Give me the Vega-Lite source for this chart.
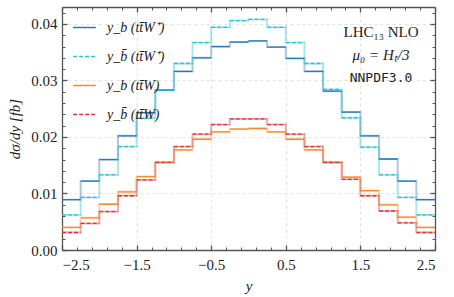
{
  "$schema": "https://vega.github.io/schema/vega-lite/v6.json",
  "width": 373,
  "height": 243,
  "autosize": "none",
  "padding": {"left": 62, "top": 7, "right": 19, "bottom": 47},
  "background": "white",
  "config": {
    "view": {"stroke": null},
    "font": "Liberation Serif",
    "axis": {
      "labelFont": "Liberation Serif",
      "labelFontSize": 14,
      "labelColor": "#222",
      "titleFont": "Liberation Serif",
      "titleFontSize": 15,
      "titleFontStyle": "italic",
      "titleFontWeight": "normal",
      "titleColor": "#222",
      "domainColor": "#555",
      "domainWidth": 1.3,
      "tickColor": "#555",
      "gridColor": "#d8d8d8",
      "gridDash": [3, 3],
      "gridWidth": 0.8
    },
    "legend": {
      "orient": "none",
      "legendX": 10,
      "legendY": 8,
      "title": null,
      "symbolType": "stroke",
      "symbolSize": 520,
      "symbolStrokeWidth": 1.3,
      "symbolOpacity": 1,
      "labelFont": "Liberation Serif",
      "labelFontSize": 14,
      "labelFontStyle": "italic",
      "labelColor": "#222",
      "rowPadding": 9,
      "labelOffset": 10
    }
  },
  "data": {
    "values": [
      {"s": "b+", "lo": -2.5, "hi": -2.25, "v": 0.0089},
      {"s": "b+", "lo": -2.25, "hi": -2.0, "v": 0.0122},
      {"s": "b+", "lo": -2.0, "hi": -1.75, "v": 0.0160},
      {"s": "b+", "lo": -1.75, "hi": -1.5, "v": 0.0202},
      {"s": "b+", "lo": -1.5, "hi": -1.25, "v": 0.0243},
      {"s": "b+", "lo": -1.25, "hi": -1.0, "v": 0.0283},
      {"s": "b+", "lo": -1.0, "hi": -0.75, "v": 0.0316},
      {"s": "b+", "lo": -0.75, "hi": -0.5, "v": 0.0340},
      {"s": "b+", "lo": -0.5, "hi": -0.25, "v": 0.0360},
      {"s": "b+", "lo": -0.25, "hi": 0.0, "v": 0.0368},
      {"s": "b+", "lo": 0.0, "hi": 0.25, "v": 0.0370},
      {"s": "b+", "lo": 0.25, "hi": 0.5, "v": 0.0359},
      {"s": "b+", "lo": 0.5, "hi": 0.75, "v": 0.0339},
      {"s": "b+", "lo": 0.75, "hi": 1.0, "v": 0.0316},
      {"s": "b+", "lo": 1.0, "hi": 1.25, "v": 0.0281},
      {"s": "b+", "lo": 1.25, "hi": 1.5, "v": 0.0244},
      {"s": "b+", "lo": 1.5, "hi": 1.75, "v": 0.0202},
      {"s": "b+", "lo": 1.75, "hi": 2.0, "v": 0.0161},
      {"s": "b+", "lo": 2.0, "hi": 2.25, "v": 0.0122},
      {"s": "b+", "lo": 2.25, "hi": 2.5, "v": 0.0089},
      {"s": "bbar+", "lo": -2.5, "hi": -2.25, "v": 0.0062},
      {"s": "bbar+", "lo": -2.25, "hi": -2.0, "v": 0.0093},
      {"s": "bbar+", "lo": -2.0, "hi": -1.75, "v": 0.0133},
      {"s": "bbar+", "lo": -1.75, "hi": -1.5, "v": 0.0183},
      {"s": "bbar+", "lo": -1.5, "hi": -1.25, "v": 0.0233},
      {"s": "bbar+", "lo": -1.25, "hi": -1.0, "v": 0.0283},
      {"s": "bbar+", "lo": -1.0, "hi": -0.75, "v": 0.0330},
      {"s": "bbar+", "lo": -0.75, "hi": -0.5, "v": 0.0367},
      {"s": "bbar+", "lo": -0.5, "hi": -0.25, "v": 0.0394},
      {"s": "bbar+", "lo": -0.25, "hi": 0.0, "v": 0.0406},
      {"s": "bbar+", "lo": 0.0, "hi": 0.25, "v": 0.0408},
      {"s": "bbar+", "lo": 0.25, "hi": 0.5, "v": 0.0394},
      {"s": "bbar+", "lo": 0.5, "hi": 0.75, "v": 0.0367},
      {"s": "bbar+", "lo": 0.75, "hi": 1.0, "v": 0.0330},
      {"s": "bbar+", "lo": 1.0, "hi": 1.25, "v": 0.0284},
      {"s": "bbar+", "lo": 1.25, "hi": 1.5, "v": 0.0234},
      {"s": "bbar+", "lo": 1.5, "hi": 1.75, "v": 0.0182},
      {"s": "bbar+", "lo": 1.75, "hi": 2.0, "v": 0.0133},
      {"s": "bbar+", "lo": 2.0, "hi": 2.25, "v": 0.0093},
      {"s": "bbar+", "lo": 2.25, "hi": 2.5, "v": 0.0062},
      {"s": "b", "lo": -2.5, "hi": -2.25, "v": 0.0040},
      {"s": "b", "lo": -2.25, "hi": -2.0, "v": 0.0057},
      {"s": "b", "lo": -2.0, "hi": -1.75, "v": 0.0081},
      {"s": "b", "lo": -1.75, "hi": -1.5, "v": 0.0103},
      {"s": "b", "lo": -1.5, "hi": -1.25, "v": 0.0130},
      {"s": "b", "lo": -1.25, "hi": -1.0, "v": 0.0155},
      {"s": "b", "lo": -1.0, "hi": -0.75, "v": 0.0177},
      {"s": "b", "lo": -0.75, "hi": -0.5, "v": 0.0196},
      {"s": "b", "lo": -0.5, "hi": -0.25, "v": 0.0209},
      {"s": "b", "lo": -0.25, "hi": 0.0, "v": 0.0214},
      {"s": "b", "lo": 0.0, "hi": 0.25, "v": 0.0215},
      {"s": "b", "lo": 0.25, "hi": 0.5, "v": 0.0209},
      {"s": "b", "lo": 0.5, "hi": 0.75, "v": 0.0196},
      {"s": "b", "lo": 0.75, "hi": 1.0, "v": 0.0177},
      {"s": "b", "lo": 1.0, "hi": 1.25, "v": 0.0155},
      {"s": "b", "lo": 1.25, "hi": 1.5, "v": 0.0129},
      {"s": "b", "lo": 1.5, "hi": 1.75, "v": 0.0105},
      {"s": "b", "lo": 1.75, "hi": 2.0, "v": 0.0080},
      {"s": "b", "lo": 2.0, "hi": 2.25, "v": 0.0058},
      {"s": "b", "lo": 2.25, "hi": 2.5, "v": 0.0040},
      {"s": "bbar", "lo": -2.5, "hi": -2.25, "v": 0.0031},
      {"s": "bbar", "lo": -2.25, "hi": -2.0, "v": 0.0047},
      {"s": "bbar", "lo": -2.0, "hi": -1.75, "v": 0.0068},
      {"s": "bbar", "lo": -1.75, "hi": -1.5, "v": 0.0096},
      {"s": "bbar", "lo": -1.5, "hi": -1.25, "v": 0.0124},
      {"s": "bbar", "lo": -1.25, "hi": -1.0, "v": 0.0155},
      {"s": "bbar", "lo": -1.0, "hi": -0.75, "v": 0.0183},
      {"s": "bbar", "lo": -0.75, "hi": -0.5, "v": 0.0205},
      {"s": "bbar", "lo": -0.5, "hi": -0.25, "v": 0.0222},
      {"s": "bbar", "lo": -0.25, "hi": 0.0, "v": 0.0232},
      {"s": "bbar", "lo": 0.0, "hi": 0.25, "v": 0.0232},
      {"s": "bbar", "lo": 0.25, "hi": 0.5, "v": 0.0222},
      {"s": "bbar", "lo": 0.5, "hi": 0.75, "v": 0.0205},
      {"s": "bbar", "lo": 0.75, "hi": 1.0, "v": 0.0183},
      {"s": "bbar", "lo": 1.0, "hi": 1.25, "v": 0.0155},
      {"s": "bbar", "lo": 1.25, "hi": 1.5, "v": 0.0125},
      {"s": "bbar", "lo": 1.5, "hi": 1.75, "v": 0.0096},
      {"s": "bbar", "lo": 1.75, "hi": 2.0, "v": 0.0069},
      {"s": "bbar", "lo": 2.0, "hi": 2.25, "v": 0.0048},
      {"s": "bbar", "lo": 2.25, "hi": 2.5, "v": 0.0031}
    ]
  },
  "layer": [
    {
      "transform": [{"fold": ["lo", "hi"], "as": ["k", "xv"]}],
      "mark": {"type": "line", "strokeWidth": 2, "opacity": 0.4},
      "encoding": {
        "x": {
          "field": "xv", "type": "quantitative",
          "scale": {"domain": [-2.5, 2.5], "nice": false, "zero": false},
          "axis": {
            "orient": "bottom", "values": [-2.5, -1.5, -0.5, 0.5, 1.5, 2.5],
            "format": ".1f", "grid": true, "tickSize": -5, "tickWidth": 1.3,
            "labelFont": "Liberation Serif", "labelFontSize": 15,
            "labelPadding": 12, "title": "y", "titlePadding": 6
          }
        },
        "y": {
          "field": "v", "type": "quantitative",
          "scale": {"domain": [0, 0.043], "nice": false},
          "axis": {
            "orient": "left", "values": [0, 0.01, 0.02, 0.03, 0.04],
            "format": ".2f", "grid": true, "tickSize": -5, "tickWidth": 1.3,
            "labelFont": "Liberation Serif", "labelFontSize": 15,
            "labelPadding": 10, "title": "dσ/dy [fb]", "titlePadding": 8
          }
        },
        "color": {
          "field": "s", "type": "nominal",
          "scale": {"domain": ["b+", "bbar+", "b", "bbar"], "range": ["#2a78b6", "#2cc0d4", "#f98b2c", "#d6363a"]}
        },
        "order": [{"field": "xv", "type": "quantitative"}, {"field": "k", "type": "nominal"}]
      }
    },
    {
      "mark": {"type": "rule", "strokeWidth": 1.3},
      "encoding": {
        "x": {"field": "lo", "type": "quantitative", "axis": null},
        "x2": {"field": "hi"},
        "y": {"field": "v", "type": "quantitative", "axis": null},
        "color": {
          "field": "s", "type": "nominal",
          "scale": {"domain": ["b+", "bbar+", "b", "bbar"], "range": ["#2a78b6", "#2cc0d4", "#f98b2c", "#d6363a"]},
          "legend": {
            "labelExpr": "datum.value == 'b+' ? 'y_b (tt̄W⁺)' : datum.value == 'bbar+' ? 'y_b̄ (tt̄W⁺)' : datum.value == 'b' ? 'y_b (tt̄W)' : 'y_b̄ (tt̄W)'"
          }
        },
        "strokeDash": {
          "field": "s", "type": "nominal",
          "scale": {"domain": ["b+", "bbar+", "b", "bbar"], "range": [[1, 0], [4, 2], [1, 0], [4, 2]]},
          "legend": {
            "labelExpr": "datum.value == 'b+' ? 'y_b (tt̄W⁺)' : datum.value == 'bbar+' ? 'y_b̄ (tt̄W⁺)' : datum.value == 'b' ? 'y_b (tt̄W)' : 'y_b̄ (tt̄W)'"
          }
        }
      }
    },
    {
      "mark": {"type": "point", "opacity": 0},
      "encoding": {
        "x": {
          "field": "lo", "type": "quantitative",
          "axis": {
            "orient": "bottom", "values": [-2.3, -2.1, -1.9, -1.7, -1.3, -1.1, -0.9, -0.7, -0.3, -0.1, 0.1, 0.3, 0.7, 0.9, 1.1, 1.3, 1.7, 1.9, 2.1, 2.3],
            "labels": false, "grid": false, "domain": false, "tickSize": -3, "tickWidth": 1, "title": null
          }
        },
        "y": {
          "field": "v", "type": "quantitative",
          "axis": {
            "orient": "left", "values": [0.002, 0.004, 0.006, 0.008, 0.012, 0.014, 0.016, 0.018, 0.022, 0.024, 0.026, 0.028, 0.032, 0.034, 0.036, 0.038, 0.042],
            "labels": false, "grid": false, "domain": false, "tickSize": -3, "tickWidth": 1, "title": null
          }
        }
      }
    },
    {
      "mark": {"type": "point", "opacity": 0},
      "encoding": {
        "x": {
          "field": "hi", "type": "quantitative",
          "axis": {
            "orient": "top", "values": [-2.5, -1.5, -0.5, 0.5, 1.5, 2.5],
            "labels": false, "grid": false, "tickSize": -5, "tickWidth": 1.3, "title": null
          }
        },
        "y": {
          "field": "v", "type": "quantitative",
          "axis": {
            "orient": "right", "values": [0, 0.01, 0.02, 0.03, 0.04],
            "labels": false, "grid": false, "tickSize": -5, "tickWidth": 1.3, "title": null
          }
        }
      }
    },
    {
      "mark": {"type": "point", "opacity": 0},
      "encoding": {
        "x": {
          "field": "hi", "type": "quantitative",
          "axis": {
            "orient": "top", "values": [-2.3, -2.1, -1.9, -1.7, -1.3, -1.1, -0.9, -0.7, -0.3, -0.1, 0.1, 0.3, 0.7, 0.9, 1.1, 1.3, 1.7, 1.9, 2.1, 2.3],
            "labels": false, "grid": false, "domain": false, "tickSize": -3, "tickWidth": 1, "title": null
          }
        },
        "y": {
          "field": "v", "type": "quantitative",
          "axis": {
            "orient": "right", "values": [0.002, 0.004, 0.006, 0.008, 0.012, 0.014, 0.016, 0.018, 0.022, 0.024, 0.026, 0.028, 0.032, 0.034, 0.036, 0.038, 0.042],
            "labels": false, "grid": false, "domain": false, "tickSize": -3, "tickWidth": 1, "title": null
          }
        }
      }
    },
    {
      "data": {"values": [{"t": "LHC₁₃ NLO"}]},
      "mark": {"type": "text", "font": "Liberation Serif", "fontSize": 15, "align": "center", "baseline": "middle", "color": "#222"},
      "encoding": {
        "x": {"datum": 1.776, "type": "quantitative", "axis": null},
        "y": {"datum": 0.0386, "type": "quantitative", "axis": null},
        "text": {"field": "t"}
      }
    },
    {
      "data": {"values": [{"t": "μ₀ = Hₜ/3"}]},
      "mark": {"type": "text", "font": "Liberation Serif", "fontSize": 15, "fontStyle": "italic", "align": "center", "baseline": "middle", "color": "#222"},
      "encoding": {
        "x": {"datum": 1.776, "type": "quantitative", "axis": null},
        "y": {"datum": 0.0345, "type": "quantitative", "axis": null},
        "text": {"field": "t"}
      }
    },
    {
      "data": {"values": [{"t": "NNPDF3.0"}]},
      "mark": {"type": "text", "font": "DejaVu Sans Mono", "fontSize": 13, "align": "center", "baseline": "middle", "color": "#222"},
      "encoding": {
        "x": {"datum": 1.776, "type": "quantitative", "axis": null},
        "y": {"datum": 0.0304, "type": "quantitative", "axis": null},
        "text": {"field": "t"}
      }
    }
  ],
  "resolve": {"axis": {"x": "independent", "y": "independent"}}
}
